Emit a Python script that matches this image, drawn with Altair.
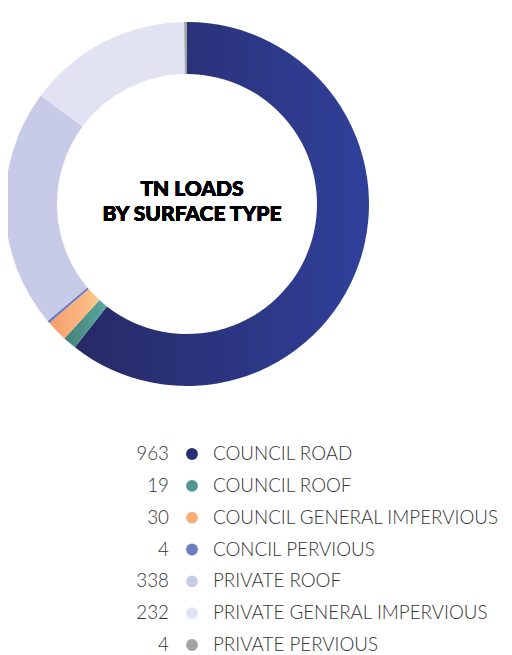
import math
import altair as alt
import pandas as pd

labels = ["COUNCIL ROAD", "COUNCIL ROOF", "COUNCIL GENERAL IMPERVIOUS", "CONCIL PERVIOUS",
          "PRIVATE ROOF", "PRIVATE GENERAL IMPERVIOUS", "PRIVATE PERVIOUS"]
values = [963, 19, 30, 4, 338, 232, 4]
colors = ["#292e72", "#4f968e", "#f9ad78", "#6d7cc0", "#c8cbe8", "#e1e3f2", "#a3a3a3"]
gradient_stops = {
    0: ("#262965", "#30409a"),
    1: ("#458076", "#5aa8a0"),
    2: ("#f59c6c", "#fdc68a"),
}
title_lines = ["TN LOADS", "BY SURFACE TYPE"]

total = sum(values)
df = pd.DataFrame({"label": labels, "value": values, "order": list(range(len(labels))), "color": colors})

CX, CY = 179, 196
R_OUT, R_IN = 182, 130

base = alt.Chart(df).transform_window(
    cum="sum(value)", sort=[alt.SortField("order")]
).transform_calculate(start="datum.cum - datum.value")

theta_scale = alt.Scale(domain=[0, total], range=[0, 2 * math.pi])

layers = []
for i in range(len(labels)):
    if i in gradient_stops:
        c0, c1 = gradient_stops[i]
        fill = alt.LinearGradient(
            gradient="linear",
            stops=[alt.GradientStop(color=c0, offset=0), alt.GradientStop(color=c1, offset=1)],
            x1=0, x2=1, y1=0, y2=0,
        )
    else:
        fill = colors[i]
    layer = base.transform_filter(f"datum.order == {i}").mark_arc(
        innerRadius=R_IN, outerRadius=R_OUT, fill=fill, stroke=None
    ).encode(
        theta=alt.Theta("start:Q", scale=theta_scale),
        theta2="cum:Q",
        x=alt.value(CX),
        y=alt.value(CY),
    )
    layers.append(layer)

center_text = alt.Chart(df).mark_text(
    text=title_lines, font="Lato", fontWeight=900, fontSize=21, lineHeight=25,
    align="center", baseline="middle", color="#000000",
).encode(x=alt.value(184), y=alt.value(182))

y_enc = alt.Y("label:N", scale=alt.Scale(type="point", domain=labels, range=[446, 637], padding=0), axis=None)

nums = alt.Chart(df).mark_text(
    align="right", baseline="middle", font="Lato", fontWeight=300, fontSize=18.8, color="#333333"
).encode(y=y_enc, x=alt.value(161), text="value:Q")

dots = alt.Chart(df).mark_circle(size=140, opacity=1).encode(
    y=y_enc, x=alt.value(184), color=alt.Color("color:N", scale=None)
)

names = alt.Chart(df).mark_text(
    align="left", baseline="middle", font="Lato", fontWeight=300, fontSize=18.8, color="#333333"
).encode(y=y_enc, x=alt.value(205), text="label:N")

chart = alt.layer(*layers, center_text, nums, dots, names).properties(
    width=496, height=647, padding=0, autosize=alt.AutoSizeParams(type="none")
).configure_view(stroke=None)

chart.save("out.html", embed_options={"renderer": "svg", "actions": False})
